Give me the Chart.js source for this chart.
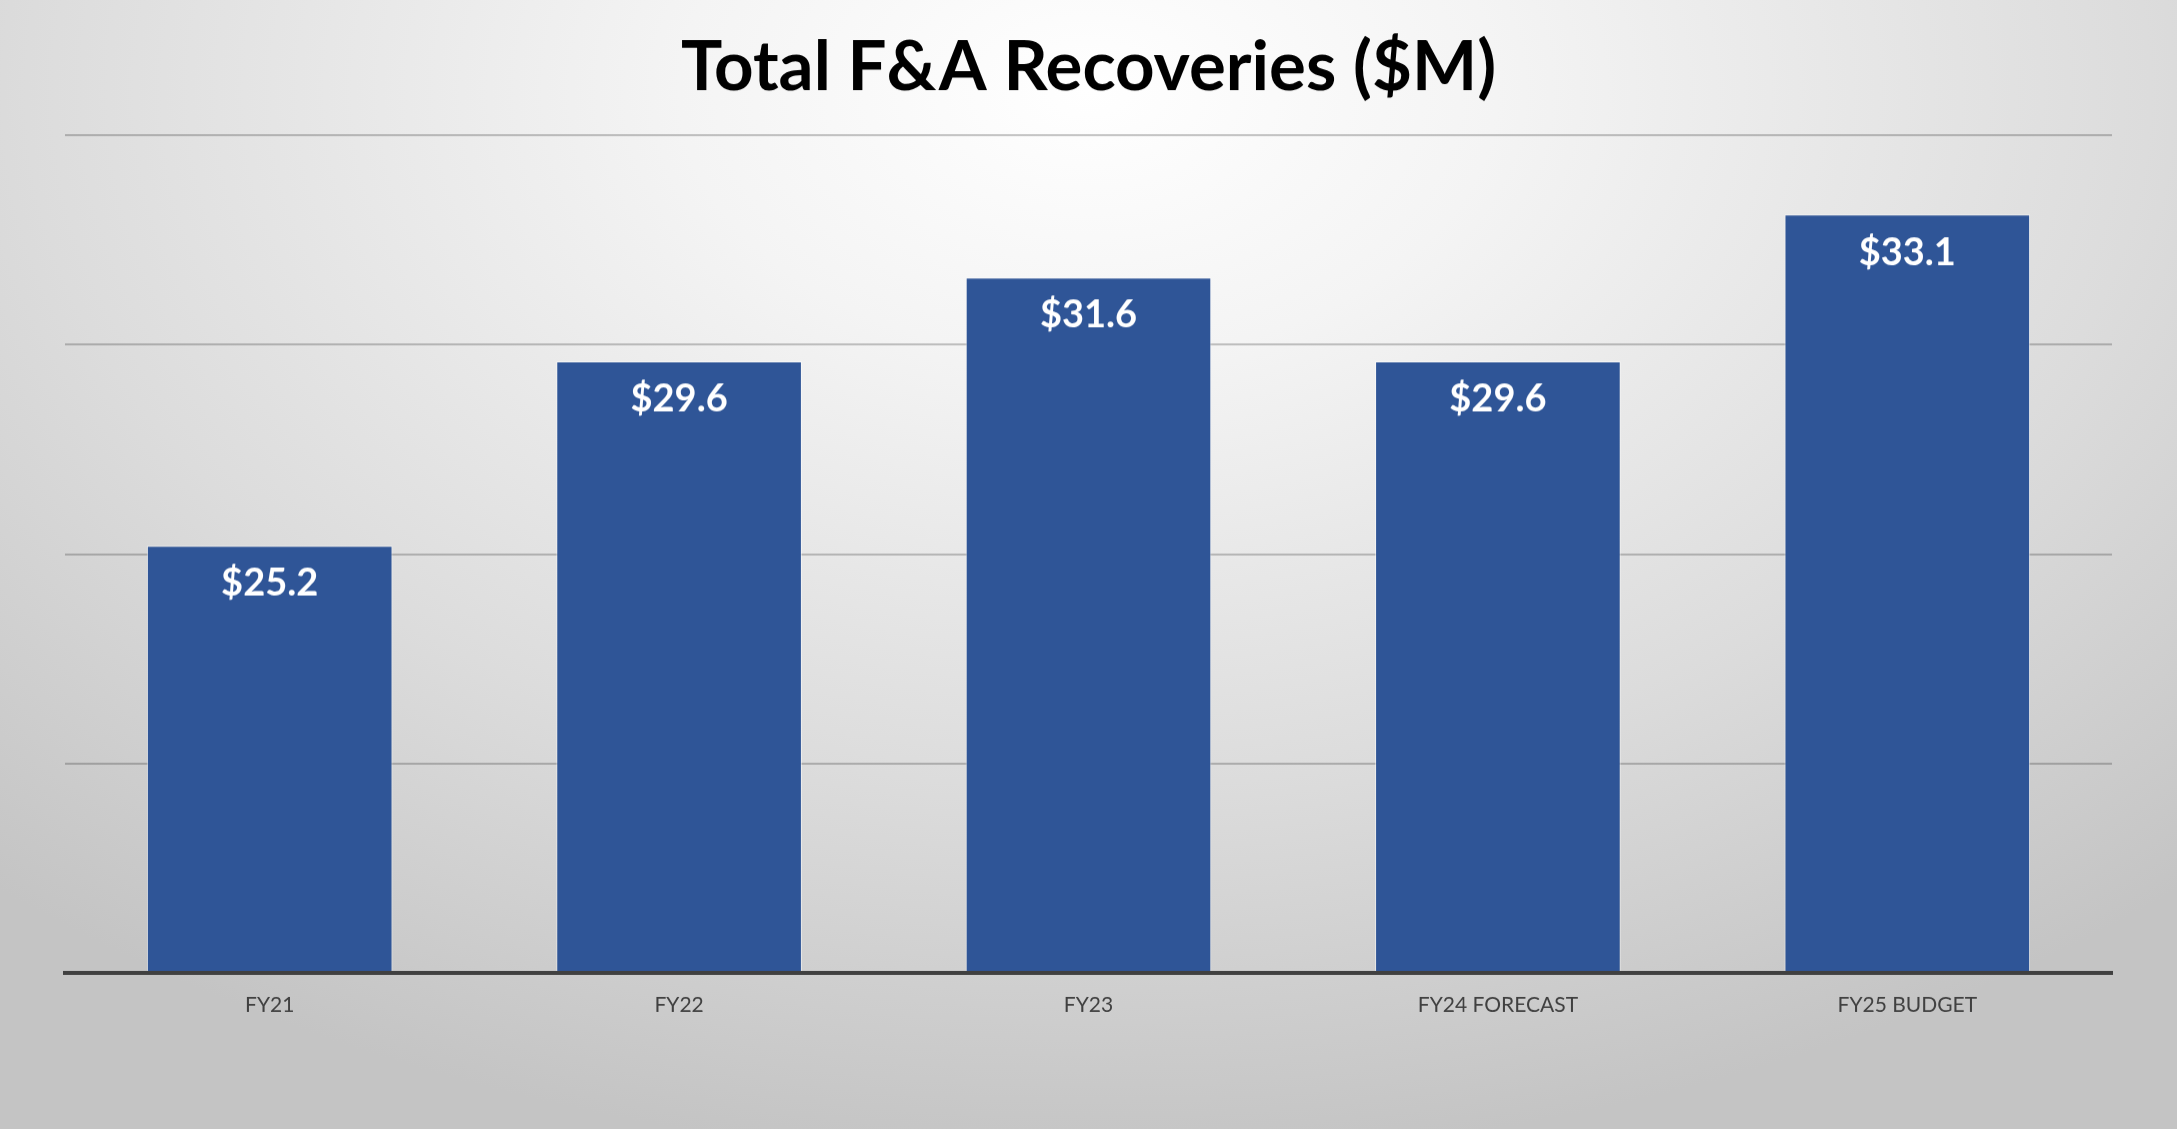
<!DOCTYPE html>
<html>
<head>
<meta charset="utf-8">
<script src="https://cdn.jsdelivr.net/npm/chart.js@4.4.0/dist/chart.umd.min.js"></script>
<style>
  html, body { margin: 0; padding: 0; }
  body {
    width: 2177px;
    height: 1129px;
    overflow: hidden;
    background: radial-gradient(ellipse 75% 95% at 50% 8%, #ffffff 0%, #f4f4f4 25%, #dcdcdc 65%, #c4c4c4 100%);
  }
  #wrap { position: relative; width: 2177px; height: 1129px; }
</style>
</head>
<body>
<div id="wrap"><canvas id="myChart"></canvas></div>
<script>
const categories = ["FY21", "FY22", "FY23", "FY24 FORECAST", "FY25 BUDGET"];
const recoveries = [25.2, 29.6, 31.6, 29.6, 33.1];
const Y_MIN = 15;
const Y_MAX = 35;
const Y_STEP = 5;

//writes the $ value inside the top of each bar
const barLabels = {
  id: "barLabels",
  afterDatasetsDraw(chart) {
    const c = chart.ctx;
    const meta = chart.getDatasetMeta(0);
    c.save();
    c.fillStyle = "#ffffff";
    c.font = "bold 38px Lato";
    c.textAlign = "center";
    c.textBaseline = "middle";
    meta.data.forEach((bar, i) => {
      c.fillText("$" + recoveries[i].toFixed(1), bar.x, bar.y + 38);
    });
    c.restore();
  },
};

const ctx = document.getElementById("myChart");
let myChart = new Chart(ctx, {
  type: "bar",
  data: {
    labels: categories,
    datasets: [
      {
        data: recoveries,
        backgroundColor: "#2F5597",
        borderColor: "rgba(255,255,255,0.55)",
        borderWidth: 1,
        barPercentage: 0.6,
        categoryPercentage: 1,
      },
    ],
  },
  options: {
    responsive: false,
    animation: false,
    devicePixelRatio: 1,
    layout: { padding: { left: 65, right: 65, top: 0, bottom: 53 } },
    plugins: {
      legend: { display: false },
      tooltip: { enabled: false },
      title: {
        display: true,
        text: "Total F&A Recoveries ($M)",
        color: "#000000",
        font: { family: "Lato", size: 69, weight: "bold" },
        padding: { top: 26, bottom: 26 },
      },
    },
    scales: {
      x: {
        grid: { display: false, drawTicks: false },
        border: { display: true, color: "#404040", width: 4, z: 1 },
        ticks: {
          color: "#404040",
          font: { family: "Lato", size: 21 },
          padding: 19,
        },
      },
      y: {
        min: Y_MIN,
        max: Y_MAX,
        ticks: { display: false, stepSize: Y_STEP },
        border: { display: false },
        grid: { color: "rgba(0,0,0,0.22)", lineWidth: 2, drawTicks: false },
      },
    },
  },
  plugins: [barLabels],
});
ctx.width = 2177;
ctx.height = 1129;
myChart.resize(2177, 1129);
</script>
</body>
</html>
